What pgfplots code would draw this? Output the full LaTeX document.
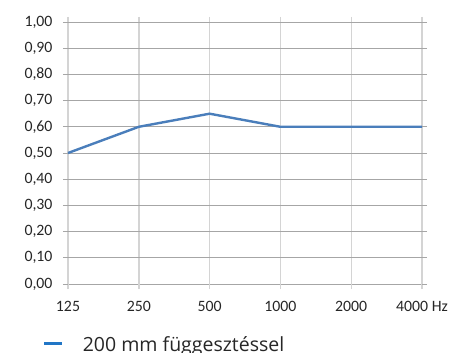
\documentclass[border=0pt]{standalone}
\usepackage{pgfplots}
\pgfplotsset{compat=1.18}
\usepackage{fontspec}
\setmainfont{Carlito}
\newfontfamily\legfont{Open Sans}
\definecolor{lineblue}{HTML}{4A7EBB}
\definecolor{legblue}{HTML}{2176C6}
\definecolor{vgrid}{HTML}{D4D4D4}
\definecolor{hgrid}{HTML}{A6A6A6}
\begin{document}
\begin{tikzpicture}
\useasboundingbox (-68bp,-69bp) rectangle (384bp,284bp);
\begin{axis}[
  at={(0,0)}, anchor=origin,
  scale only axis, width=354bp, height=262bp,
  xmin=0, xmax=5, ymin=0, ymax=1,
  axis line style={draw=none},
  xtick={0,1,2,3,4,5},
  xticklabels={125,250,500,1000,2000,4000 Hz},
  ytick={0,0.1,0.2,0.3,0.4,0.5,0.6,0.7,0.8,0.9,1.0},
  yticklabel style={xshift=-7bp, /pgf/number format/.cd, fixed, fixed zerofill, precision=2, use comma},
  /pgf/number format/assume math mode=true,
  tick label style={font=\fontsize{15.8bp}{18bp}\selectfont, text=black!85},
  xticklabel style={yshift=-9bp},
  grid=major,
  x grid style={vgrid, line width=1.4bp},
  y grid style={hgrid, line width=0.9bp},
  tick align=outside,
  major tick length=5bp,
  xtick style={vgrid, line width=1.4bp},
  ytick style={hgrid, line width=0.9bp},
  clip=false,
  legend style={draw=none, fill=none, at={(-0.0706,-0.228)}, anchor=west, inner sep=0pt, outer sep=0pt,
    font=\legfont\fontsize{19.5bp}{22bp}\selectfont, text=black!85,
    nodes={inner sep=0pt, text depth=0pt}},
  legend image code/.code={\draw[color=legblue, line width=2.8bp] (0bp,0bp) -- (18bp,0bp);},
]
\addplot[color=lineblue, line width=2.4bp] coordinates {(0,0.50) (1,0.60) (2,0.65) (3,0.60) (4,0.60) (5,0.60)};
\addlegendentry{\hspace{19bp}200 mm függesztéssel}
\end{axis}
\end{tikzpicture}
\end{document}
